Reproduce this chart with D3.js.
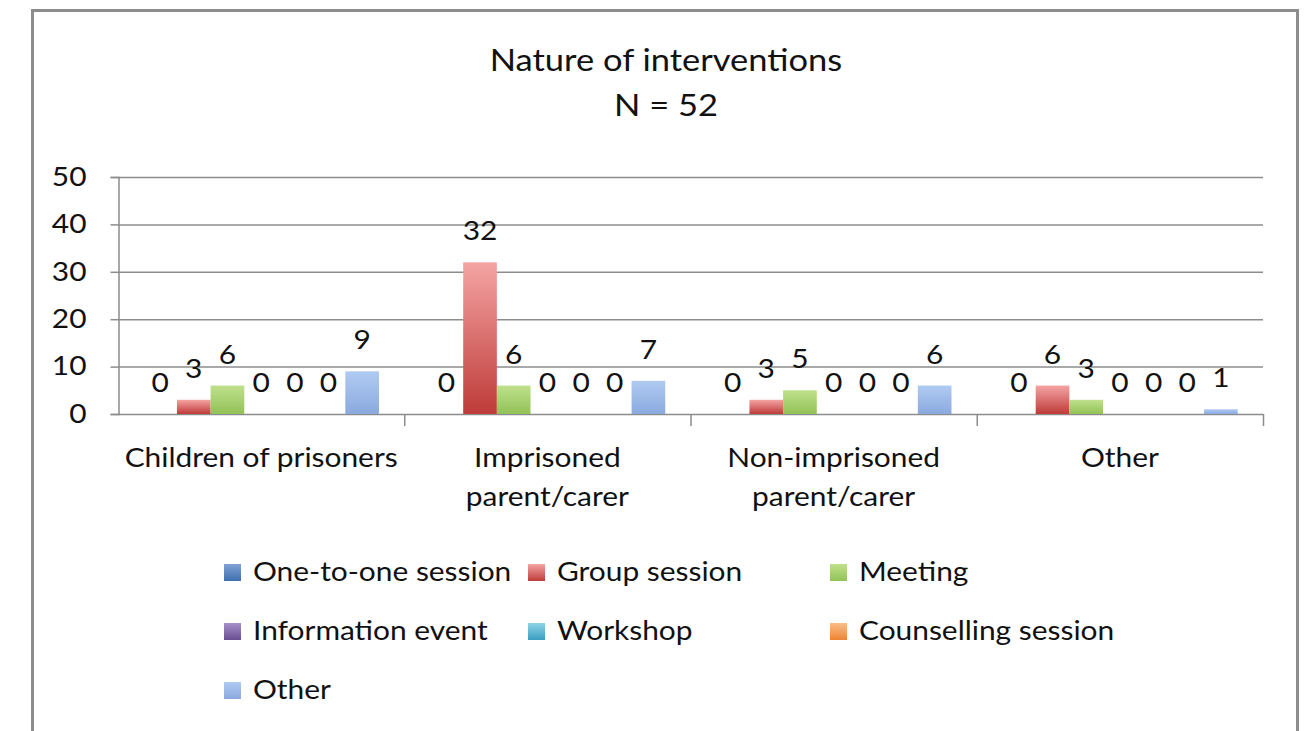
<!DOCTYPE html>
<html>
<head>
<meta charset="utf-8">
<script src="https://cdn.jsdelivr.net/npm/d3@7"></script>
<style>
  html, body { margin: 0; padding: 0; background: #fff; }
  svg { display: block; }
  text { font-family: Lato, "Open Sans", sans-serif; fill: #111; }
</style>
</head>
<body>
<svg id="chart" width="1309" height="731"></svg>
<script>
// ---- Data ----
const titleLines = ["Nature of interventions", "N = 52"];
const categories = ["Children of prisoners", "Imprisoned parent/carer", "Non-imprisoned parent/carer", "Other"];
const categoryLabelLines = [["Children of prisoners"], ["Imprisoned", "parent/carer"], ["Non-imprisoned", "parent/carer"], ["Other"]];
const seriesNames = ["One-to-one session", "Group session", "Meeting", "Information event", "Workshop", "Counselling session", "Other"];
const oneToOne     = [0, 0, 0, 0];
const groupSession = [3, 32, 3, 6];
const meeting      = [6, 6, 5, 3];
const infoEvent    = [0, 0, 0, 0];
const workshop     = [0, 0, 0, 0];
const counselling  = [0, 0, 0, 0];
const otherSeries  = [9, 7, 6, 1];
const seriesValues = [oneToOne, groupSession, meeting, infoEvent, workshop, counselling, otherSeries];
const yTicks = [0, 10, 20, 30, 40, 50];

// colours (top, bottom) for gradients
const seriesColors = [
  ["#7fa3d6", "#3f6fae"],
  ["#f4a4a3", "#be3b39"],
  ["#bfe08c", "#93c257"],
  ["#a690c8", "#6a4e92"],
  ["#8fd3e6", "#3a9ec0"],
  ["#fbbd86", "#ee8433"],
  ["#b0cbf2", "#8aa9de"]
];

const STRETCH = 1.15; // horizontal text stretch, matches the reference's wide glyphs

// Convert a text's x/y into a translate + horizontal scale
function stretchText(sel) {
  sel.each(function() {
    const t = d3.select(this);
    const x = +t.attr("x") || 0;
    const yv = +t.attr("y") || 0;
    t.attr("x", 0).attr("y", 0)
     .attr("transform", `translate(${x},${yv}) scale(${STRETCH},1)`);
    t.selectAll("tspan").attr("x", 0);
  });
}

const svg = d3.select("#chart");
const defs = svg.append("defs");
seriesColors.forEach((c, i) => {
  const g = defs.append("linearGradient").attr("id", "grad" + i)
    .attr("x1", 0).attr("y1", 0).attr("x2", 0).attr("y2", 1);
  g.append("stop").attr("offset", "0%").attr("stop-color", c[0]);
  g.append("stop").attr("offset", "100%").attr("stop-color", c[1]);
});

// outer border
svg.append("rect").attr("x", 32.5).attr("y", 10.5).attr("width", 1265).attr("height", 740)
  .attr("fill", "#fff").attr("stroke", "#8c8c8c").attr("stroke-width", 3);

// Title
const titleG = svg.append("g");
titleG.selectAll("text").data(titleLines).join("text")
  .attr("x", 666).attr("y", (d, i) => 71 + i * 45).attr("text-anchor", "middle")
  .style("font-size", "30px").text(d => d);
stretchText(titleG.selectAll("text"));

// Scales
const plotLeft = 118, plotRight = 1263, plotTop = 177, plotBottom = 414;
const x0 = d3.scaleBand().domain(categories).range([plotLeft, plotRight]).paddingInner(0).paddingOuter(0);
const x1 = d3.scaleBand().domain(d3.range(seriesNames.length)).range([0, x0.bandwidth()]).paddingInner(0).paddingOuter(0.75);
const y = d3.scaleLinear().domain([0, 50]).range([plotBottom, plotTop]);

// gridlines
svg.append("g").selectAll("line").data(yTicks).join("line")
  .attr("x1", plotLeft).attr("x2", plotRight)
  .attr("y1", d => y(d) + 0.5).attr("y2", d => y(d) + 0.5)
  .attr("stroke", "#8c8c8c").attr("stroke-width", 1.5);

// y axis
const yAxis = d3.axisLeft(y).tickValues(yTicks).tickSize(8).tickPadding(24);
const yg = svg.append("g").attr("transform", `translate(${plotLeft + 0.5},0)`).call(yAxis);
yg.select(".domain").attr("stroke", "#8c8c8c").attr("stroke-width", 1.5);
yg.selectAll(".tick line").attr("stroke", "#8c8c8c").attr("stroke-width", 1.5);
yg.selectAll(".tick text").style("font-size", "26px").style("font-family", "Lato, sans-serif").attr("fill", "#111");
yg.selectAll(".tick text").each(function() {
  const t = d3.select(this);
  const x = +t.attr("x");
  t.attr("x", 0).attr("transform", `translate(${x},0) scale(${STRETCH},1)`);
});

// x axis ticks (category boundaries)
const boundaries = categories.map(c => x0(c)).concat([plotRight]);
svg.append("g").selectAll("line").data(boundaries.slice(1)).join("line")
  .attr("x1", d => d + 0.5).attr("x2", d => d + 0.5)
  .attr("y1", plotBottom).attr("y2", plotBottom + 12)
  .attr("stroke", "#8c8c8c").attr("stroke-width", 1.5);

// category labels
const catG = svg.append("g");
categories.forEach((c, i) => {
  const t = catG.append("text").attr("x", x0(c) + x0.bandwidth() / 2).attr("y", 467)
    .attr("text-anchor", "middle").style("font-size", "26px");
  categoryLabelLines[i].forEach((line, j) => {
    t.append("tspan").attr("x", 0).attr("dy", j === 0 ? 0 : 39).text(line);
  });
});
stretchText(catG.selectAll("text"));

// bars
const groups = svg.append("g").selectAll("g").data(categories).join("g")
  .attr("transform", c => `translate(${x0(c)},0)`);
groups.each(function(c, ci) {
  const g = d3.select(this);
  const data = seriesValues.map((vals, si) => ({ si, v: vals[ci] }));
  g.selectAll("rect").data(data.filter(d => d.v > 0)).join("rect")
    .attr("x", d => x1(d.si)).attr("width", x1.bandwidth())
    .attr("y", d => y(d.v)).attr("height", d => y(0) - y(d.v))
    .attr("fill", d => `url(#grad${d.si})`);
  const labels = g.selectAll("text").data(data).join("text")
    .attr("x", d => x1(d.si) + x1.bandwidth() / 2)
    .attr("y", d => y(d.v) - 22)
    .attr("text-anchor", "middle").style("font-size", "26px")
    .text(d => d.v);
  stretchText(labels);
});

// legend
const legendColX = [224, 528, 830];
const legendRowY = [572, 631, 690];
const leg = svg.append("g").selectAll("g").data(seriesNames).join("g")
  .attr("transform", (d, i) => `translate(${legendColX[i % 3]},${legendRowY[Math.floor(i / 3)]})`);
leg.append("rect").attr("x", 0).attr("y", -8).attr("width", 17).attr("height", 17)
  .attr("fill", (d, i) => `url(#grad${i})`);
const legText = leg.append("text").attr("x", 29).attr("y", 9).style("font-size", "26px").text(d => d);
stretchText(legText);
</script>
</body>
</html>
